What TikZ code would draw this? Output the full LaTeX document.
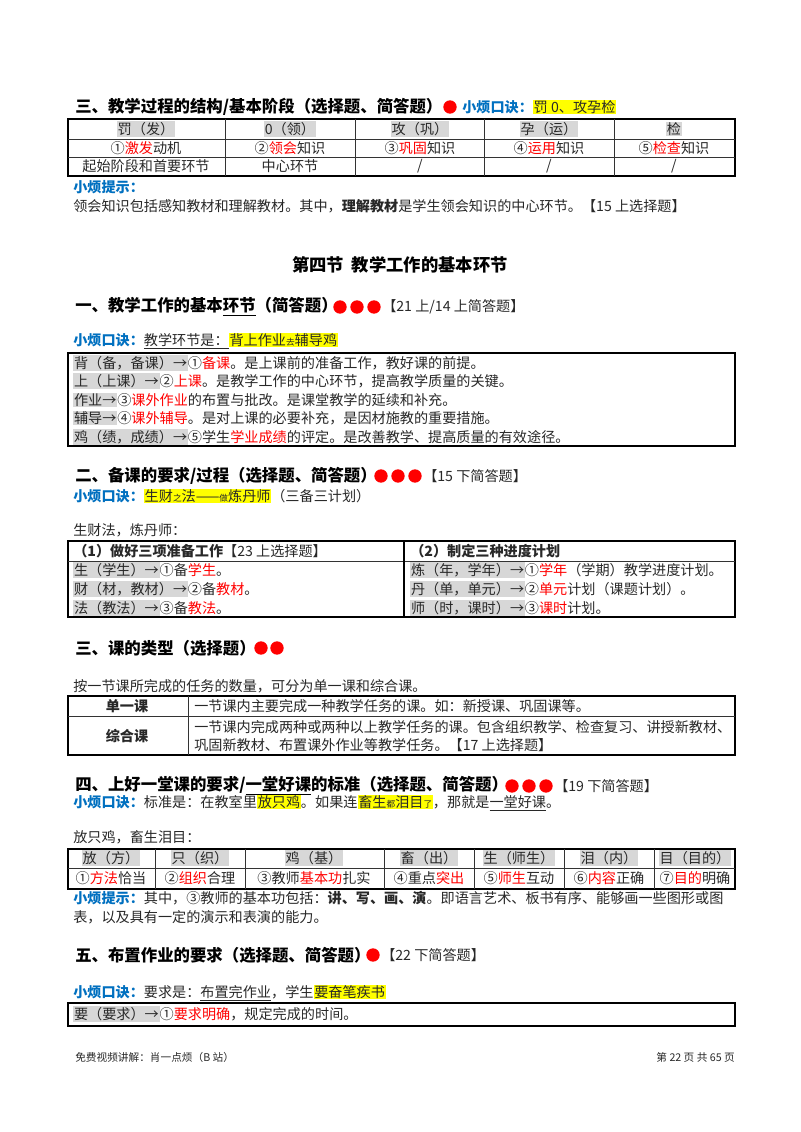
\documentclass[tikz,border=0pt]{standalone}
\usepackage{fontspec}
\setmainfont{Noto Sans CJK SC}
\usepackage{xcolor}
\definecolor{hlgray}{RGB}{215,215,215}
\definecolor{hly}{RGB}{255,255,0}
\definecolor{myred}{RGB}{255,0,0}
\definecolor{myblue}{RGB}{0,112,192}
\definecolor{txt}{RGB}{40,40,40}
\newcommand\gb[1]{{\setlength\fboxsep{0.6pt}\colorbox{hlgray}{#1}}}
\newcommand\yb[1]{{\setlength\fboxsep{0.6pt}\colorbox{hly}{#1}}}
\newcommand\rr[1]{\textcolor{myred}{#1}}
\newcommand\kj{\textcolor{myblue}{\bfseries 小烦口诀：}}
\newcommand\ts{\textcolor{myblue}{\bfseries 小烦提示：}}
\newcommand\sm[1]{{\fontsize{6.5}{7}\selectfont #1}}
\begin{document}
\begin{tikzpicture}[x=0.75pt,y=-0.75pt,
  every node/.style={inner sep=0pt,text=txt,font=\fontsize{10.6}{12}\selectfont},
  tx/.style={anchor=west},
  hd/.style={anchor=west,font=\fontsize{12.3}{14}\selectfont\bfseries,text=black},
  cc/.style={anchor=center},
  thick box/.style={draw=black,line width=1.5pt},
  thin/.style={draw=black!80,line width=0.5pt},
  dot/.style={circle,fill=myred,minimum size=10pt,inner sep=0pt}]
\useasboundingbox (0,0) rectangle (800,1132);
\fill[white] (0,0) rectangle (800,1132);

% ===== Section 三 (previous) =====
\node[hd] (h3a) at (75,107) {三、教学过程的结构/基本阶段（选择题、简答题）};
\node[dot] (d3a) at (450,107) {};
\node[tx] (k3a) at (462,107) {\kj\yb{罚 0、攻孕检}};
\draw[thick box] (68,119) rectangle (735,176);
\draw[thin] (68,139) -- (735,139) (68,157) -- (735,157);
\foreach \x in {225,355,484,614} \draw[thin] (\x,119) -- (\x,176);
\node[cc] (t1a) at (146,129) {\gb{罚（发）}};
\node[cc] (t1b) at (290,129) {\gb{0（领）}};
\node[cc] (t1c) at (420,129) {\gb{攻（巩）}};
\node[cc] (t1d) at (549,129) {\gb{孕（运）}};
\node[cc] (t1e) at (674,129) {\gb{检}};
\node[cc] (t2a) at (146,148) {①\rr{激发}动机};
\node[cc] (t2b) at (290,148) {②\rr{领会}知识};
\node[cc] (t2c) at (420,148) {③\rr{巩固}知识};
\node[cc] (t2d) at (549,148) {④\rr{运用}知识};
\node[cc] (t2e) at (674,148) {⑤\rr{检查}知识};
\node[cc] (t3a) at (146,166) {起始阶段和首要环节};
\node[cc] (t3b) at (290,166) {中心环节};
\node[cc] (t3c) at (420,166) {/};
\node[cc] (t3d) at (549,166) {/};
\node[cc] (t3e) at (674,166) {/};
\node[tx] (ts1) at (73,187) {\ts};
\node[tx] (ts1b) at (73,206) {领会知识包括感知教材和理解教材。其中，\textbf{理解教材}是学生领会知识的中心环节。【15 上选择题】};

% ===== 第四节 =====
\node[cc,font=\fontsize{13}{15}\selectfont\bfseries,text=black] (title) at (400,265) {第四节\ \ 教学工作的基本环节};

% ===== 一 =====
\node[hd] (h1) at (75,307) {一、教学工作的基本\underline{环节}（简答题）};
\node[dot] (d1a) at (340,307) {};\node[dot] (d1b) at (357,307) {};\node[dot] (d1c) at (374,307) {};
\node[tx] (r1) at (382,307) {【21 上/14 上简答题】};
\node[tx] (k1) at (73,341) {\kj\underline{教学环节是：}\yb{背上作业\sm{去}辅导鸡}};
\draw[thick box] (68,353) rectangle (735,446);
\node[tx] (b1) at (73,363) {\gb{背（备，备课）→}①\rr{备课}。是上课前的准备工作，教好课的前提。};
\node[tx] (b2) at (73,381) {\gb{上（上课）→}②\rr{上课}。是教学工作的中心环节，提高教学质量的关键。};
\node[tx] (b3) at (73,400) {\gb{作业→}③\rr{课外作业}的布置与批改。是课堂教学的延续和补充。};
\node[tx] (b4) at (73,418) {\gb{辅导→}④\rr{课外辅导}。是对上课的必要补充，是因材施教的重要措施。};
\node[tx] (b5) at (73,437) {\gb{鸡（绩，成绩）→}⑤学生\rr{学业成绩}的评定。是改善教学、提高质量的有效途径。};

% ===== 二 =====
\node[hd] (h2) at (75,476) {二、备课的要求/过程（选择题、简答题）};
\node[dot] (d2a) at (381,476) {};\node[dot] (d2b) at (398,476) {};\node[dot] (d2c) at (415,476) {};
\node[tx] (r2) at (423,476) {【15 下简答题】};
\node[tx] (k2) at (73,496) {\kj\yb{生财\sm{之}法——\sm{做}炼丹师}（三备三计划）};
\node[tx] (p2) at (73,530) {生财法，炼丹师：};
\draw[thick box] (68,541) rectangle (735,617);
\draw[thin] (68,561) -- (735,561);
\draw[line width=1.2pt] (404,541) -- (404,617);
\node[tx] (c1h) at (73,551) {\textbf{（1）做好三项准备工作}【23 上选择题】};
\node[tx] (c2h) at (410,551) {\textbf{（2）制定三种进度计划}};
\node[tx] (c11) at (73,570) {\gb{生（学生）→}①备\rr{学生}。};
\node[tx] (c12) at (73,589) {\gb{财（材，教材）→}②备\rr{教材}。};
\node[tx] (c13) at (73,608) {\gb{法（教法）→}③备\rr{教法}。};
\node[tx] (c21) at (410,570) {\gb{炼（年，学年）→}①\rr{学年}（学期）教学进度计划。};
\node[tx] (c22) at (410,589) {\gb{丹（单，单元）→}②\rr{单元}计划（课题计划）。};
\node[tx] (c23) at (410,608) {\gb{师（时，课时）→}③\rr{课时}计划。};

% ===== 三 =====
\node[hd] (h3) at (75,648) {三、课的类型（选择题）};
\node[dot] (d3b) at (261,648) {};\node[dot] (d3c) at (277,648) {};
\node[tx] (p3) at (73,686) {按一节课所完成的任务的数量，可分为单一课和综合课。};
\draw[thick box] (68,696) rectangle (735,755);
\draw[thin] (68,716) -- (735,716);
\draw[thin] (188,696) -- (188,755);
\node[cc,font=\fontsize{10.6}{12}\selectfont\bfseries] (s1) at (127,706) {单一课};
\node[cc,font=\fontsize{10.6}{12}\selectfont\bfseries] (s2) at (127,736) {综合课};
\node[tx] (s1t) at (194,706) {一节课内主要完成一种教学任务的课。如：新授课、巩固课等。};
\node[tx] (s2t) at (194,727) {一节课内完成两种或两种以上教学任务的课。包含组织教学、检查复习、讲授新教材、};
\node[tx] (s2u) at (194,745) {巩固新教材、布置课外作业等教学任务。【17 上选择题】};

% ===== 四 =====
\node[hd] (h4) at (75,786) {四、上好一堂课的要求/\underline{一堂好课}的标准（选择题、简答题）};
\node[dot] (d4a) at (512,786) {};\node[dot] (d4b) at (529,786) {};\node[dot] (d4c) at (546,786) {};
\node[tx] (r4) at (554,786) {【19 下简答题】};
\node[tx] (k4) at (73,803) {\kj 标准是：在教室里\yb{放只鸡}。如果连\yb{畜生\sm{都}泪目\sm{了}}，那就是\underline{一堂好课}。};
\node[tx] (p4) at (73,837) {放只鸡，畜生泪目：};
\draw[thick box] (68,849) rectangle (735,889);
\draw[thin] (68,868) -- (735,868);
\foreach \x in {155,245,384,474,564,654} \draw[thin] (\x,849) -- (\x,889);
\node[cc] (f1) at (111,858) {\gb{放（方）}};
\node[cc] (f2) at (200,858) {\gb{只（织）}};
\node[cc] (f3) at (314,858) {\gb{鸡（基）}};
\node[cc] (f4) at (429,858) {\gb{畜（出）}};
\node[cc] (f5) at (519,858) {\gb{生（师生）}};
\node[cc] (f6) at (609,858) {\gb{泪（内）}};
\node[cc] (f7) at (695,858) {\gb{目（目的）}};
\node[cc] (g1) at (111,878) {①\rr{方法}恰当};
\node[cc] (g2) at (200,878) {②\rr{组织}合理};
\node[cc] (g3) at (314,878) {③教师\rr{基本功}扎实};
\node[cc] (g4) at (429,878) {④重点\rr{突出}};
\node[cc] (g5) at (519,878) {⑤\rr{师生}互动};
\node[cc] (g6) at (609,878) {⑥\rr{内容}正确};
\node[cc] (g7) at (695,878) {⑦\rr{目的}明确};
\node[tx] (ts4) at (73,898) {\ts 其中，③教师的基本功包括：\textbf{讲、写、画、演}。即语言艺术、板书有序、能够画一些图形或图};
\node[tx] (ts4b) at (73,917) {表，以及具有一定的演示和表演的能力。};

% ===== 五 =====
\node[hd] (h5) at (75,955) {五、布置作业的要求（选择题、简答题）};
\node[dot] (d5) at (373,955) {};
\node[tx] (r5) at (381,955) {【22 下简答题】};
\node[tx] (k5) at (73,993) {\kj 要求是：\underline{布置完作业}，学生\yb{要奋笔疾书}};
\draw[thick box] (68,1003) rectangle (735,1026);
\node[tx] (e1) at (73,1014) {\gb{要（要求）→}①\rr{要求明确}，规定完成的时间。};

% footer
\node[tx,font=\fontsize{8}{9}\selectfont] (fl) at (75,1057) {免费视频讲解：肖一点烦（B 站）};
\node[anchor=east,font=\fontsize{8}{9}\selectfont] (fr) at (735,1057) {第 22 页 共 65 页};
\end{tikzpicture}
\end{document}
